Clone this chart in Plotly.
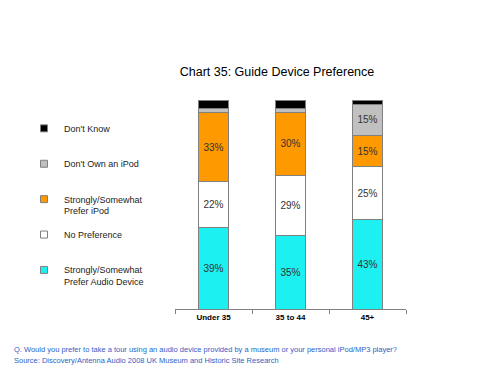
import plotly.graph_objects as go

categories = ["Under 35", "35 to 44", "45+"]
audio_device = [39, 35, 43]
no_preference = [22, 29, 25]
prefer_ipod = [33, 30, 15]
dont_own_ipod = [2, 2, 15]
dont_know = [4, 4, 2]

series = [
    ("Strongly/Somewhat<br>Prefer Audio Device", audio_device, "#1CF0F0"),
    ("No Preference", no_preference, "#FFFFFF"),
    ("Strongly/Somewhat<br>Prefer iPod", prefer_ipod, "#FF9900"),
    ("Don't Own an iPod", dont_own_ipod, "#C0C0C0"),
    ("Don't Know", dont_know, "#000000"),
]

FONT = "Liberation Sans, Arial, sans-serif"
# page body has 8px margin -> figure coordinates are page coordinates minus 8
OFF = 8
L, R_EDGE, TOP, BOT = 175 - OFF, 406 - OFF, 99.5 - OFF, 309 - OFF
PW, PH = R_EDGE - L, BOT - TOP

fig = go.Figure()
for name, vals, color in series:
    fig.add_trace(go.Bar(
        x=categories, y=vals, name=name, showlegend=False,
        marker=dict(color=color, line=dict(color="#808080", width=1)),
        text=[f"{v}%" if v >= 10 else "" for v in vals],
        textposition="inside", insidetextanchor="middle",
        textfont=dict(family=FONT, size=10, color="#333333"),
        hoverinfo="skip",
    ))
for i, (name, vals, color) in enumerate(reversed(series)):
    label = name if "<br>" in name else name + "<br> "
    fig.add_trace(go.Scatter(
        x=[None], y=[None], mode="markers", name=label,
        legendgroup=f"g{i}",
        marker=dict(symbol="square", size=7, color=color,
                    line=dict(color="#808080", width=1)),
    ))

fig.update_layout(
    width=500, height=375,
    barmode="stack", bargap=0.6,
    plot_bgcolor="white", paper_bgcolor="white",
    margin=dict(l=L, r=500 - R_EDGE, t=TOP, b=375 - BOT),
    title=dict(text="Chart 35: Guide Device Preference", x=(277 - OFF) / 500, xanchor="center",
               y=1 - (72 - OFF) / 375, yanchor="middle", xref="container", yref="container",
               font=dict(family=FONT, size=12.5, color="#000000")),
    legend=dict(xref="container", yref="container", x=(24 - OFF) / 500, y=1 - (116 - OFF) / 375,
                xanchor="left", yanchor="top", traceorder="grouped",
                valign="top", tracegroupgap=9, maxheight=400,
                font=dict(family=FONT, size=9, color="#222222"),
                bgcolor="rgba(0,0,0,0)"),
    xaxis=dict(showline=True, linecolor="#808080", linewidth=1,
               ticks="outside", tickson="boundaries", ticklen=4, tickcolor="#808080",
               tickfont=dict(family=FONT, size=8, color="#000000", weight="bold"),
               showgrid=False),
    yaxis=dict(range=[0, 100], visible=False, showgrid=False),
    showlegend=True,
    annotations=[
        dict(text="Q. Would you prefer to take a tour using an audio device provided by a museum or your personal iPod/MP3 player?",
             xref="paper", yref="paper", x=(12 - OFF - L) / PW, y=(BOT - (350 - OFF)) / PH,
             xanchor="left", yanchor="middle", showarrow=False,
             font=dict(family=FONT, size=7.5, color="#2E5FC8")),
        dict(text="Source: Discovery/Antenna Audio 2008 UK Museum and Historic Site Research",
             xref="paper", yref="paper", x=(12 - OFF - L) / PW, y=(BOT - (361 - OFF)) / PH,
             xanchor="left", yanchor="middle", showarrow=False,
             font=dict(family=FONT, size=7.5, color="#2E5FC8")),
    ],
)
fig.write_html("out.html")
